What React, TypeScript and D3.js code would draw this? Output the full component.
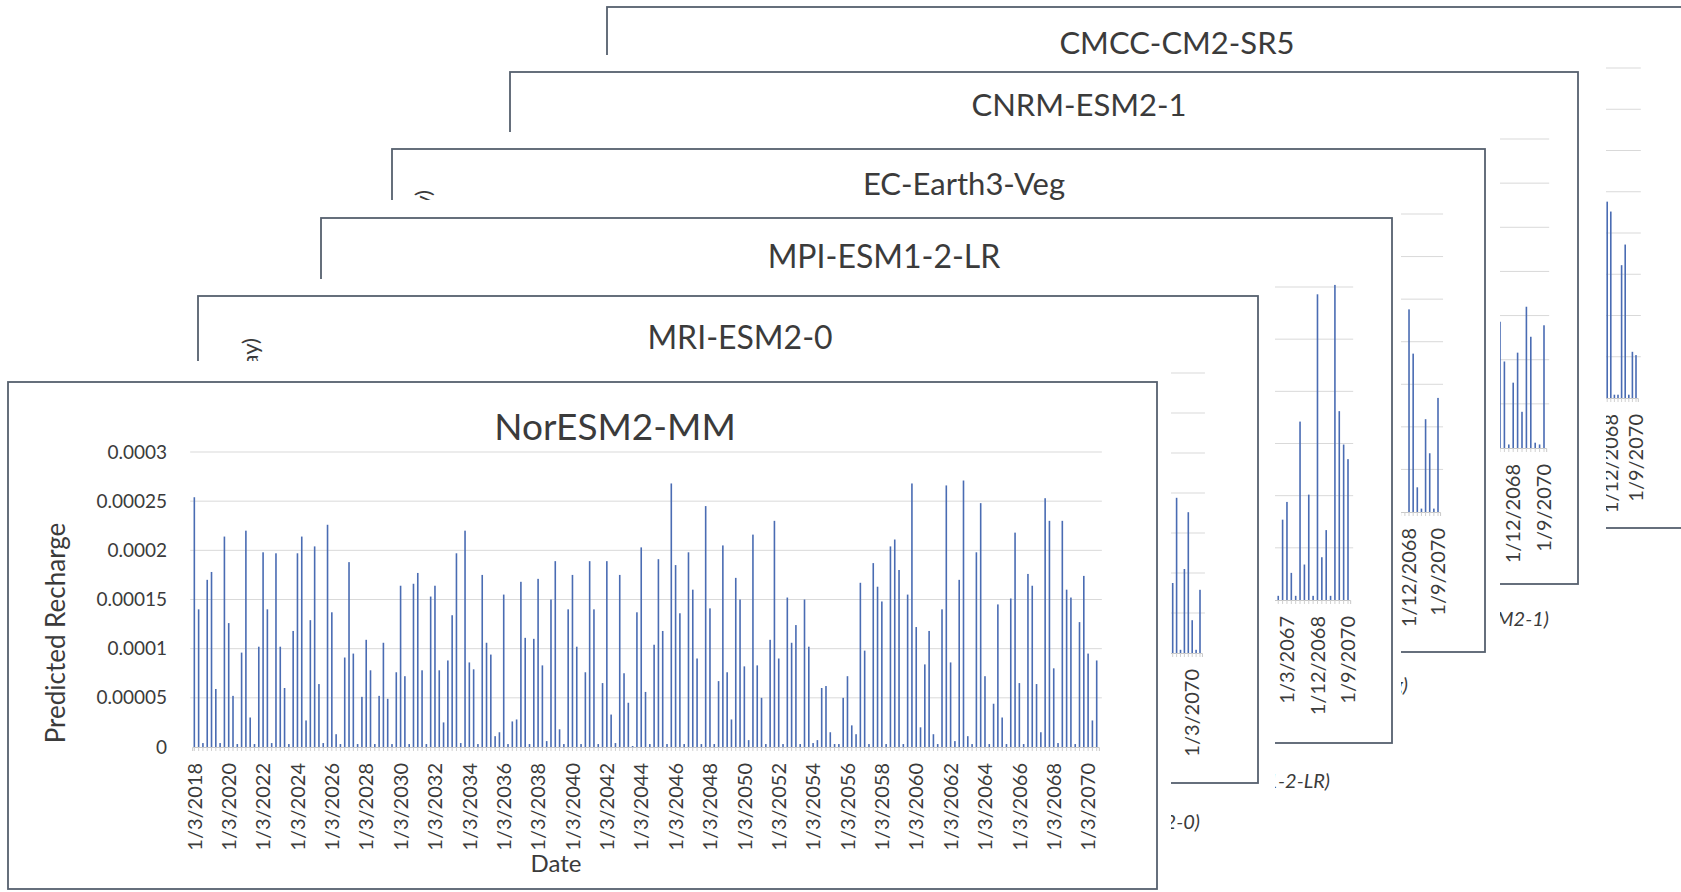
import React, { useEffect, useRef } from "react";
import * as d3 from "d3";

// quarterly dates 1/3/2018 ... 1/9/2070 (day/month/year)
const quarterMonths = [3, 6, 9, 12];
const quarters: string[] = d3
  .range(2018, 2071)
  .flatMap((yr) => quarterMonths.map((m) => `1/${m}/${yr}`))
  .slice(0, 211);

// NorESM2-MM, every quarter
const noresmRecharge = [
  0.000254, 0.00014, 0.000004, 0.00017, 0.000178, 0.000059, 0.000004, 0.000214, 0.000126, 0.000052,
  0.000003, 0.000096, 0.00022, 0.00003, 0.000003, 0.000102, 0.000198, 0.00014, 0.000004, 0.000197,
  0.000102, 0.00006, 0.000003, 0.000118, 0.000197, 0.000214, 0.000027, 0.000129, 0.000204, 0.000064,
  0.000004, 0.000226, 0.000137, 0.000013, 0.000003, 0.000091, 0.000188, 0.000095, 0.000003, 0.000051,
  0.000109, 0.000078, 0.000003, 0.000052, 0.000106, 0.000049, 0.000003, 0.000076, 0.000164, 0.000072,
  0.000003, 0.000166, 0.000177, 0.000078, 0.000003, 0.000153, 0.000164, 0.000078, 0.000025, 0.000088,
  0.000134, 0.000197, 0.000004, 0.00022, 0.000086, 0.000079, 0.000003, 0.000175, 0.000106, 0.000094,
  0.000011, 0.000015, 0.000155, 0.000003, 0.000026, 0.000028, 0.000168, 0.000111, 0.000003, 0.00011,
  0.000171, 0.000083, 0.000006, 0.00015, 0.000189, 0.000018, 0.000003, 0.00014, 0.000175, 0.000102,
  0.000003, 0.000076, 0.000189, 0.00014, 0.000003, 0.000065, 0.000189, 0.000033, 0.000004, 0.000175,
  0.000075, 0.000045, 0.000001, 0.000137, 0.000203, 0.000056, 0.000003, 0.000104, 0.000191, 0.000118,
  0.000003, 0.000268, 0.000185, 0.000136, 0.000003, 0.000198, 0.00016, 0.00009, 0.000003, 0.000245,
  0.000141, 0.000003, 0.000067, 0.000205, 0.000076, 0.000028, 0.000172, 0.00015, 0.000082, 0.000007,
  0.000216, 0.000083, 0.00005, 0.000003, 0.000109, 0.00023, 0.00009, 0.000003, 0.000152, 0.000106,
  0.000124, 0.000003, 0.00015, 0.000102, 0.000004, 0.000007, 0.00006, 0.000062, 0.000015, 0.000003,
  0.000003, 0.00005, 0.000072, 0.000022, 0.000013, 0.000167, 0.000098, 0.000003, 0.000187, 0.000163,
  0.000148, 0.000003, 0.000204, 0.000211, 0.00018, 0.000003, 0.000155, 0.000268, 0.000122, 0.00002,
  0.000084, 0.000118, 0.000013, 0.000003, 0.00014, 0.000266, 0.000086, 0.000006, 0.00017, 0.000271,
  0.000011, 0.000003, 0.000198, 0.000248, 0.000072, 0.000003, 0.000044, 0.000145, 0.00003, 0.000003,
  0.000151, 0.000218, 0.000065, 0.000003, 0.000176, 0.000164, 0.000064, 0.000015, 0.000253, 0.00023,
  0.00008, 0.000004, 0.00023, 0.00016, 0.000152, 0.000003, 0.000127, 0.000174, 0.000095, 0.000027, 0.000088,
];

// the cards behind only show their last quarters, these are the visible ones
const mriTail = [0.0000875, 0.000194, 0.000004, 0.000105, 0.000176, 0.000041, 0.000004, 0.000079];
const mpiTail = [
  0.000024, 0.000004, 0.000077, 0.000094, 0.000026, 0.000004, 0.000171, 0.000034, 0.000101,
  0.000004, 0.000293, 0.000041, 0.000067, 0.000004, 0.000302, 0.000181, 0.000149, 0.000135,
];
const ecTail = [0.000238, 0.000186, 0.000029, 0.000004, 0.000109, 0.000069, 0.000004, 0.000134];
const cnrmTail = [0.000143, 0.000098, 0.000004, 0.000074, 0.000108, 0.000041, 0.00016, 0.000126, 0.000006, 0.000004, 0.000139];
const cmccTail = [0.000238, 0.000226, 0.000004, 0.000004, 0.000161, 0.000186, 0.000004, 0.000056, 0.000052];

const FONT = "Lato, 'Open Sans', 'DejaVu Sans', sans-serif";
const TEXT = "#3b3b3b";
const BAR = "#4a6cb3";
const GRID = "#d9d9d9";
const BORDER = "#56606e";

type Card = {
  title: string;
  values: number[];
  yMax: number;
  box: [number, number, number, number];
  pad: { t: number; r: number; b: number };
  baseline: number;
  top: number;
  lastX: number;
  step: number;
  labelEvery: number;
  titleX: number;
  titleY: number;
  titleSize: number;
  yTitle: string;
  yTitleX: number;
  yTitleY: number;
  yTitleAnchor: string;
  yTitleSize: number;
  yLabelX: number;
  caption?: string;
  captionX?: number;
  captionY?: number;
  xTitle?: boolean;
};

// front to back
const cards: Card[] = [
  {
    title: "NorESM2-MM", values: noresmRecharge, yMax: 0.0003,
    box: [8, 382, 1157, 889], pad: { t: 21, r: 14, b: 10 },
    baseline: 747, top: 452, lastX: 1096.7, step: 4.297, labelEvery: 8,
    titleX: 615, titleY: 440, titleSize: 37,
    yTitle: "Predicted Recharge", yTitleX: 56, yTitleY: 633, yTitleAnchor: "middle", yTitleSize: 26,
    yLabelX: 167, xTitle: true,
  },
  {
    title: "MRI-ESM2-0", values: mriTail, yMax: 0.00035,
    box: [198, 296, 1258, 783], pad: { t: 17, r: 17, b: 60 },
    baseline: 653, top: 373, lastX: 1200, step: 3.9, labelEvery: 8,
    titleX: 740, titleY: 349, titleSize: 32,
    yTitle: "Predicted Recharge (mm/day)", yTitleX: 250, yTitleY: 338, yTitleAnchor: "end", yTitleSize: 22,
    yLabelX: 345, caption: "(MRI-ESM2-0)", captionX: 1200, captionY: 829,
  },
  {
    title: "MPI-ESM1-2-LR", values: mpiTail, yMax: 0.0003,
    box: [321, 218, 1392, 743], pad: { t: 18, r: 9, b: 60 },
    baseline: 600, top: 287, lastX: 1348, step: 4.36, labelEvery: 7,
    titleX: 884, titleY: 268, titleSize: 32,
    yTitle: "Predicted Recharge (mm/day)", yTitleX: 370, yTitleY: 300, yTitleAnchor: "end", yTitleSize: 22,
    yLabelX: 455, caption: "(MPI-ESM1-2-LR)", captionX: 1330, captionY: 788,
  },
  {
    title: "EC-Earth3-Veg", values: ecTail, yMax: 0.00035,
    box: [392, 149, 1485, 652], pad: { t: 17, r: 15, b: 60 },
    baseline: 512, top: 214, lastX: 1438, step: 4.14, labelEvery: 7,
    titleX: 964, titleY: 195, titleSize: 31,
    yTitle: "Predicted Recharge (mm/day)", yTitleX: 423, yTitleY: 190, yTitleAnchor: "end", yTitleSize: 22,
    yLabelX: 535, caption: "(EC-Earth3-Veg)", captionX: 1408, captionY: 692,
  },
  {
    title: "CNRM-ESM2-1", values: cnrmTail, yMax: 0.00035,
    box: [510, 72, 1578, 584], pad: { t: 17, r: 28, b: 60 },
    baseline: 448, top: 139, lastX: 1544, step: 4.4, labelEvery: 7,
    titleX: 1079, titleY: 116, titleSize: 31,
    yTitle: "Predicted Recharge (mm/day)", yTitleX: 560, yTitleY: 150, yTitleAnchor: "end", yTitleSize: 22,
    yLabelX: 640, caption: "(CNRM-ESM2-1)", captionX: 1549, captionY: 626,
  },
  {
    title: "CMCC-CM2-SR5", values: cmccTail, yMax: 0.0004,
    box: [607, 7, 1700, 528], pad: { t: 0, r: 0, b: 60 },
    baseline: 398, top: 68, lastX: 1636, step: 3.6, labelEvery: 7,
    titleX: 1177, titleY: 54, titleSize: 31,
    yTitle: "Predicted Recharge (mm/day)", yTitleX: 655, yTitleY: 90, yTitleAnchor: "end", yTitleSize: 22,
    yLabelX: 790,
  },
];

const fmt = (v: number) => (v < 1e-12 ? "0" : v.toFixed(5).replace(/0+$/, ""));

function drawCard(svg: d3.Selection<SVGSVGElement, unknown, null, undefined>, c: Card) {
  const g = svg.append("g");
  const [x0, y0, x1, y1] = c.box;

  // white sheet behind the chart (hides the cards further back)
  g.append("rect")
    .attr("x", x0 - 30)
    .attr("y", y0 - c.pad.t)
    .attr("width", x1 - x0 + 30 + c.pad.r)
    .attr("height", y1 - y0 + c.pad.t + c.pad.b)
    .attr("fill", "#fff");

  if (c.caption) {
    g.append("text")
      .attr("x", c.captionX!)
      .attr("y", c.captionY!)
      .attr("text-anchor", "end")
      .attr("font-family", FONT)
      .attr("font-style", "italic")
      .attr("font-size", 20)
      .attr("fill", TEXT)
      .text(c.caption);
  }

  g.append("rect")
    .attr("x", x0)
    .attr("y", y0)
    .attr("width", x1 - x0)
    .attr("height", y1 - y0)
    .attr("fill", "#fff")
    .attr("stroke", BORDER)
    .attr("stroke-width", 1.8);

  const right = c.lastX + c.step / 2;
  const x = d3.scaleBand<string>().domain(quarters).range([right - quarters.length * c.step, right]);
  const y = d3.scaleLinear().domain([0, c.yMax]).range([c.baseline, c.top]);
  const ticks = d3.range(0, c.yMax + 1e-9, 0.00005);
  const [px0, px1] = x.range();

  // gridlines
  g.append("g")
    .selectAll("line")
    .data(ticks.slice(1))
    .join("line")
    .attr("x1", px0 - 2)
    .attr("x2", px1 + 3)
    .attr("y1", (d) => y(d))
    .attr("y2", (d) => y(d))
    .attr("stroke", GRID)
    .attr("stroke-width", 1);

  // category axis with small tick marks
  const xAxis = g.append("g")
    .attr("transform", `translate(0,${c.baseline})`)
    .call(d3.axisBottom(x).tickValues(quarters).tickSize(4).tickFormat(() => ""));
  xAxis.select(".domain").attr("stroke", "#c8c8c8");
  xAxis.selectAll("line").attr("stroke", "#d0d0d0");

  // bars
  const offset = quarters.length - c.values.length;
  const series = c.values.map((v, k) => ({ date: quarters[offset + k], v }));
  const barW = 1.6;
  g.append("g")
    .selectAll("rect")
    .data(series)
    .join("rect")
    .attr("x", (d) => (x(d.date) as number) + x.bandwidth() / 2 - barW / 2)
    .attr("y", (d) => y(d.v))
    .attr("width", barW)
    .attr("height", (d) => c.baseline - y(d.v))
    .attr("fill", BAR);

  // value axis labels
  const yAxis = g.append("g")
    .attr("transform", `translate(${c.yLabelX},0)`)
    .call(d3.axisLeft(y).tickValues(ticks).tickFormat((d) => fmt(d as number)).tickSize(0).tickPadding(0));
  yAxis.select(".domain").remove();
  yAxis.selectAll("text").attr("font-family", FONT).attr("font-size", 19).attr("fill", TEXT);

  // date labels, rotated
  const labels = g.append("g")
    .attr("transform", `translate(0,${c.baseline})`)
    .call(
      d3.axisBottom(x)
        .tickValues(quarters.filter((_, i) => i % c.labelEvery === 0))
        .tickSize(0)
    );
  labels.select(".domain").remove();
  labels.selectAll("text")
    .attr("transform", "rotate(-90)")
    .attr("text-anchor", "end")
    .attr("x", -16)
    .attr("y", 0)
    .attr("dy", "0.36em")
    .attr("font-family", FONT)
    .attr("font-size", 20)
    .attr("fill", TEXT);

  // chart title
  g.append("text")
    .attr("x", c.titleX)
    .attr("y", c.titleY)
    .attr("text-anchor", "middle")
    .attr("font-family", FONT)
    .attr("font-size", c.titleSize)
    .attr("fill", TEXT)
    .text(c.title);

  // value axis title
  g.append("text")
    .attr("transform", `translate(${c.yTitleX},${c.yTitleY})rotate(-90)`)
    .attr("text-anchor", c.yTitleAnchor)
    .attr("dy", "0.35em")
    .attr("font-family", FONT)
    .attr("font-size", c.yTitleSize)
    .attr("fill", TEXT)
    .text(c.yTitle);

  if (c.xTitle) {
    g.append("text")
      .attr("x", 556)
      .attr("y", 872)
      .attr("text-anchor", "middle")
      .attr("font-family", FONT)
      .attr("font-size", 24)
      .attr("fill", TEXT)
      .text("Date");
  }
}

export default function App() {
  const ref = useRef<SVGSVGElement>(null);

  useEffect(() => {
    const svg = d3.select(ref.current!);
    svg.selectAll("*").remove();
    // draw the back card first so the front one covers it
    cards.slice().reverse().forEach((c) => drawCard(svg, c));
  }, []);

  return (
    <svg
      ref={ref}
      width={1681}
      height={892}
      style={{ position: "absolute", left: 0, top: 0, background: "#fff" }}
    />
  );
}
